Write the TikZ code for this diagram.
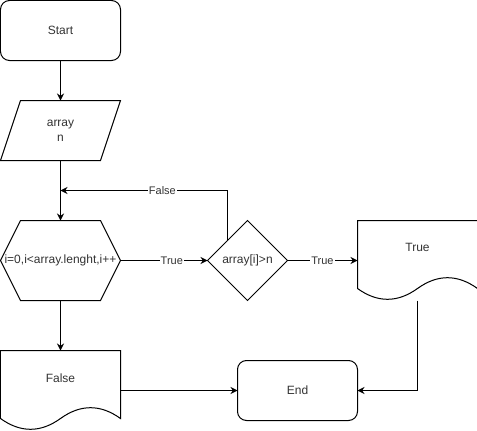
\documentclass[tikz,border=0pt]{standalone}
\usepackage{fontspec}
\setmainfont{Liberation Sans}
\usetikzlibrary{arrows.meta,calc}
\definecolor{inkgray}{HTML}{333333}
\begin{document}
\begin{tikzpicture}[x=1pt,y=-1pt,
  holder/.style={inner sep=0pt, outer sep=0pt, draw=none, align=center,
    text=inkgray, font=\fontsize{12}{15}\selectfont},
  txt/.style={inner sep=0pt, text=inkgray, font=\fontsize{12}{15}\selectfont},
  outline/.style={draw=black, line width=1pt, line join=miter},
  conn/.style={draw=black, line width=1pt, -{Stealth[length=7pt,width=7pt]}},
  lbl/.style={fill=white, inner sep=1pt, text=inkgray, font=\fontsize{11}{13}\selectfont}]
\useasboundingbox (-0.5,-0.5) rectangle (476.5,430.5);

% terminals
\node[holder, minimum width=120pt, minimum height=60pt] (start) at (60,30) {Start};
\draw[outline, rounded corners=9pt] (start.north west) rectangle (start.south east);
\node[holder, minimum width=120pt, minimum height=60pt] (end) at (297,390) {End};
\draw[outline, rounded corners=9pt] (end.north west) rectangle (end.south east);

% input data
\node[holder, minimum width=120pt, minimum height=60pt] (input) at (60,130) {array\\n};
\draw[outline] ($(input.north west)+(20,0)$) -- (input.north east)
  -- ($(input.south east)+(-20,0)$) -- (input.south west) -- cycle;

% loop header
\node[holder, minimum width=120pt, minimum height=80pt] (loop) at (60,260) {i=0,i<array.lenght,i++};
\draw[outline] (loop.west) -- ($(loop.north west)+(20,0)$) -- ($(loop.north east)+(-20,0)$)
  -- (loop.east) -- ($(loop.south east)+(-20,0)$) -- ($(loop.south west)+(20,0)$) -- cycle;

% decision
\node[holder, minimum width=80pt, minimum height=80pt] (check) at (247,260) {array[i]>n};
\draw[outline] (check.west) -- (check.north) -- (check.east) -- (check.south) -- cycle;

% result documents
\node[holder, minimum width=120pt, minimum height=80pt] (yes) at (417,260) {};
\node[txt] (yestext) at ($(yes)+(0,-13)$) {True};
\begin{scope}[shift={(yes.north west)}]
  \draw[outline] (0,0) -- (120,0) -- (120,68) .. controls (100,53.6) and (80,53.6) .. (60,68)
    .. controls (40,82.4) and (20,82.4) .. (0,68) -- cycle;
\end{scope}
\node[holder, minimum width=120pt, minimum height=80pt] (no) at (60,390) {};
\node[txt] (notext) at ($(no)+(0,-12)$) {False};
\begin{scope}[shift={(no.north west)}]
  \draw[outline] (0,0) -- (120,0) -- (120,68) .. controls (100,53.6) and (80,53.6) .. (60,68)
    .. controls (40,82.4) and (20,82.4) .. (0,68) -- cycle;
\end{scope}

% connectors
\coordinate (merge) at (60,190);
\coordinate (back) at ($(check.west)!0.5!(check.north)$);
\draw[conn] (start) -- (input);
\draw[conn] (input) -- (loop);
\draw[conn] (back) |- node[lbl, pos=0.695] {False} (merge);
\draw[conn] (loop) -- node[lbl, pos=0.59] {True} (check);
\draw[conn] (check) -- node[lbl, pos=0.5] {True} (yes);
\draw[conn] (loop) -- (no);
\draw[conn] (no.east) -- (end.west);
\draw[conn] (yes.south) |- (end);
\end{tikzpicture}
\end{document}
